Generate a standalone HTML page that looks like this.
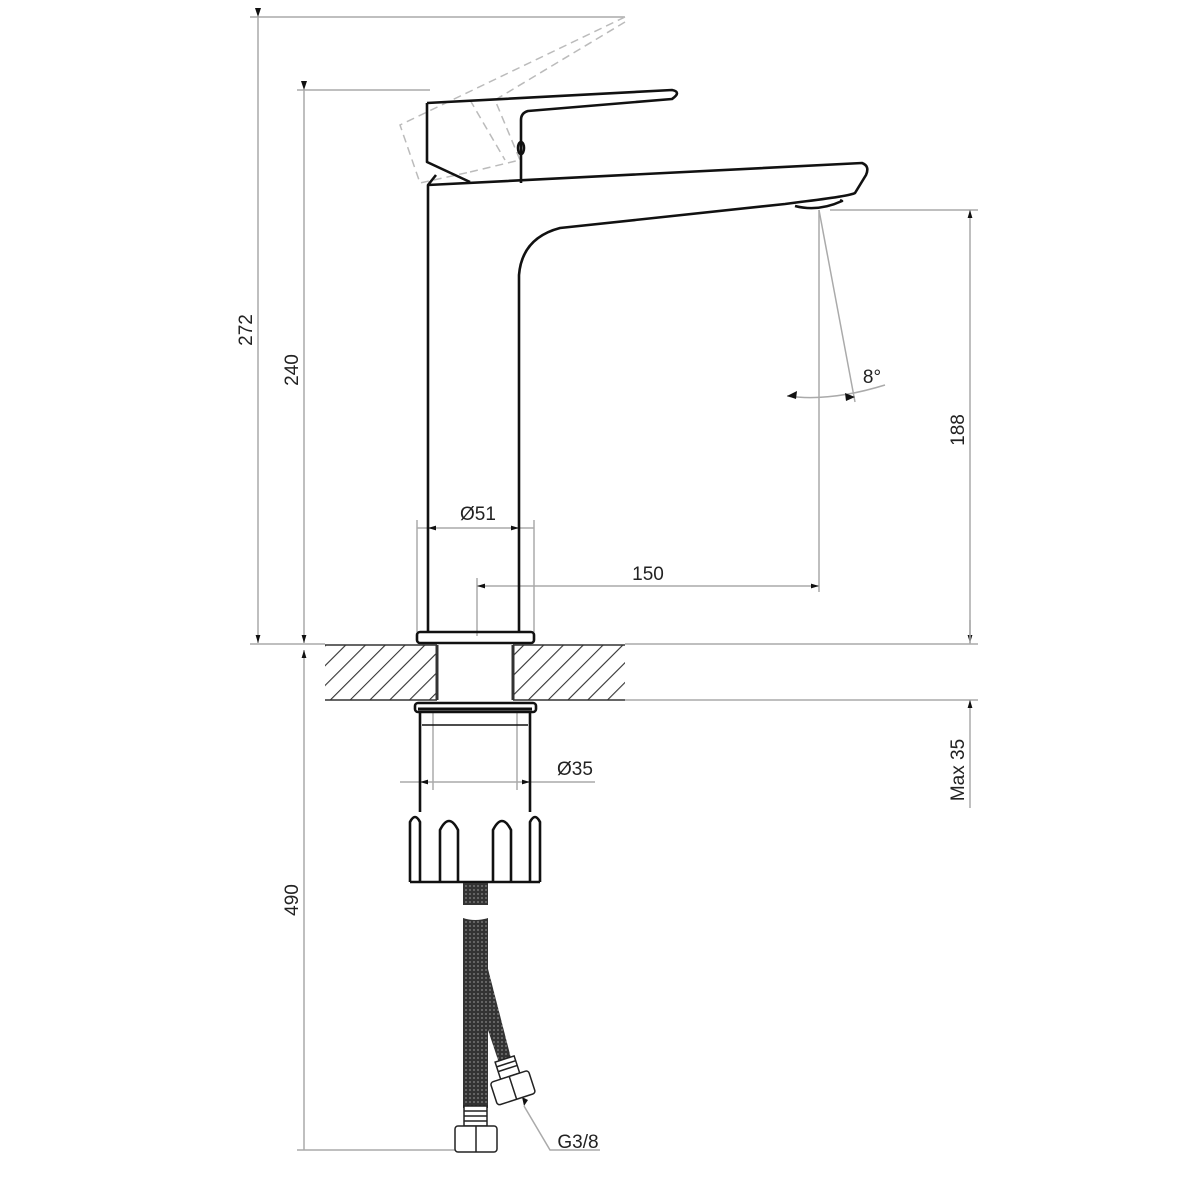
<!DOCTYPE html>
<html><head><meta charset="utf-8"><style>
html,body{margin:0;padding:0;background:#fff;}
svg{display:block;}
text{font-family:"Liberation Sans",Arial,sans-serif;fill:#222;font-size:19px;}
</style></head><body>
<svg width="1200" height="1200" viewBox="0 0 1200 1200" xmlns="http://www.w3.org/2000/svg">
<defs>
<marker id="a" viewBox="0 0 10 10" refX="10" refY="5" markerWidth="10" markerHeight="8" orient="auto-start-reverse" markerUnits="userSpaceOnUse"><path d="M0,2 L10,5 L0,8 z" fill="#111"/></marker>
<pattern id="h" width="14" height="14" patternUnits="userSpaceOnUse" patternTransform="rotate(45)"><line x1="0" y1="0" x2="0" y2="14" stroke="#333" stroke-width="2.2"/></pattern>
<pattern id="br" width="4" height="4" patternUnits="userSpaceOnUse"><rect width="4" height="4" fill="#333"/><circle cx="2" cy="2" r="0.9" fill="#888"/></pattern>
</defs>
<g stroke="#aaa" stroke-width="1.5" fill="none">
<!-- extension lines -->
<line x1="250" y1="17" x2="625" y2="17"/>
<line x1="297" y1="90" x2="430" y2="90"/>
<line x1="250" y1="644" x2="325" y2="644"/>
<line x1="625" y1="644" x2="978" y2="644"/>
<line x1="625" y1="700" x2="978" y2="700"/>
<line x1="830" y1="210" x2="978" y2="210"/>
<line x1="297" y1="1150" x2="455" y2="1150"/>
<!-- dim lines -->
<line x1="258" y1="17" x2="258" y2="643" marker-end="url(#a)"/>
<line x1="304" y1="90" x2="304" y2="643" marker-end="url(#a)"/>
<line x1="304" y1="650" x2="304" y2="1150" marker-start="url(#a)"/>
<line x1="970" y1="210" x2="970" y2="643" marker-start="url(#a)" marker-end="url(#a)"/>
<line x1="970" y1="700" x2="970" y2="808" marker-start="url(#a)"/>
<line x1="970" y1="620" x2="970" y2="644"/>
<!-- Ø51 -->
<line x1="417" y1="520" x2="417" y2="632"/>
<line x1="534" y1="520" x2="534" y2="632"/>
<line x1="417" y1="528" x2="428" y2="528"/>
<line x1="428" y1="528" x2="519" y2="528" marker-start="url(#a)" marker-end="url(#a)"/>
<line x1="519" y1="528" x2="534" y2="528"/>
<!-- 150 -->
<line x1="477" y1="578" x2="477" y2="636"/>
<line x1="819" y1="210" x2="819" y2="592"/>
<line x1="477" y1="586" x2="819" y2="586" marker-start="url(#a)" marker-end="url(#a)"/>
<!-- 8 deg -->
<line x1="819" y1="210" x2="855" y2="402"/>
<path d="M787,396 Q830,402 885,385"/>
<!-- Ø35 -->
<line x1="433" y1="712" x2="433" y2="790"/>
<line x1="517" y1="712" x2="517" y2="790"/>
<line x1="400" y1="782" x2="420" y2="782"/>
<line x1="420" y1="782" x2="530" y2="782" marker-start="url(#a)" marker-end="url(#a)"/>
<line x1="530" y1="782" x2="595" y2="782"/>
<!-- G3/8 leader -->
<polyline points="524,1106 550,1150 600,1150"/>
<!-- dashed handle -->
<g stroke-dasharray="8,5" stroke="#bbb">
<path d="M625,17 L400,125 L420,183 L470,172"/>
<path d="M625,22 L495,100 L520,160 L470,172"/>
<line x1="470" y1="100" x2="505" y2="160"/>
</g>
</g>
<g fill="#111" stroke="none">
<path d="M258,17 l-3,-9 h6z"/>
<path d="M304,90 l-3,-9 h6z"/>
<path d="M787,396 l10,-5 l-1,8z"/>
<path d="M855,397 l-10,-4 l1,8z"/>
<path d="M524,1106 l-2,-9 l6,3z"/>
</g>
<!-- counter -->
<rect x="325" y="645" width="112" height="55" fill="url(#h)"/>
<rect x="513" y="645" width="112" height="55" fill="url(#h)"/>
<g stroke="#333" stroke-width="1.5" fill="none">
<line x1="325" y1="645" x2="437" y2="645"/><line x1="513" y1="645" x2="625" y2="645"/>
<line x1="325" y1="700" x2="437" y2="700"/><line x1="513" y1="700" x2="625" y2="700"/>
<line x1="437" y1="645" x2="437" y2="700" stroke-width="3"/>
<line x1="513" y1="645" x2="513" y2="700" stroke-width="3"/>
</g>
<!-- faucet -->
<g stroke="#111" stroke-width="2.6" fill="none" stroke-linejoin="round">
<path d="M428,632 L428,185 L862,163 Q870,166 866,175 L855,193 Q850,196 800,202 L785,204 L560,228 Q522,238 519,275 L519,632"/>
<path d="M795,206 Q818,212 842,201 L840,200"/>
<path d="M427,103 L672,90 Q682,92 672,99 L528,111 Q521,113 521,120 L521,183"/>
<path d="M427,103 L427,162 L470,182"/>
<line x1="428" y1="185" x2="436" y2="175"/>
<ellipse cx="521" cy="148" rx="3" ry="6"/>
<rect x="417" y="632" width="117" height="11" rx="3"/>
<rect x="415" y="703" width="121" height="9" rx="3"/>
<line x1="418" y1="709" x2="532" y2="709" stroke-width="3"/>
<path d="M420,712 L420,812 M530,712 L530,812"/>
<line x1="422" y1="725" x2="528" y2="725" stroke-width="1.5"/>
<path d="M410,882 L410,822 Q415,812 420,822 L420,882 M530,882 L530,822 Q535,812 540,822 L540,882 M410,882 L540,882"/>
<path d="M440,882 L440,830 Q449,812 458,830 L458,882 M493,882 L493,830 Q502,812 511,830 L511,882"/>
</g>
<!-- hoses -->
<rect x="463" y="883" width="25" height="22" fill="url(#br)"/>
<path d="M463,918 Q475,922 488,918 L488,1108 L463,1108 Z" fill="url(#br)"/>
<path d="M487,965 L512,1062 L500,1066 L488,1030 Z" fill="url(#br)"/>
<g stroke="#222" stroke-width="1.5" fill="#fff">
<rect x="464" y="1106" width="23" height="20"/>
<path d="M464,1111 h23 M464,1116 h23 M464,1121 h23"/>
<rect x="455" y="1126" width="42" height="26" rx="3"/>
<line x1="476" y1="1126" x2="476" y2="1152"/>
<g transform="rotate(-18 512 1085)">
<rect x="503" y="1058" width="20" height="18"/>
<path d="M503,1063 h20 M503,1068 h20"/>
<rect x="492" y="1076" width="40" height="24" rx="3"/>
<line x1="512" y1="1076" x2="512" y2="1100"/>
</g>
</g>
<!-- labels -->
<text x="478" y="520" text-anchor="middle">Ø51</text>
<text x="648" y="580" text-anchor="middle">150</text>
<text x="872" y="383" text-anchor="middle">8°</text>
<text x="575" y="775" text-anchor="middle">Ø35</text>
<text x="578" y="1148" text-anchor="middle">G3/8</text>
<text transform="translate(252,330) rotate(-90)" text-anchor="middle">272</text>
<text transform="translate(298,370) rotate(-90)" text-anchor="middle">240</text>
<text transform="translate(298,900) rotate(-90)" text-anchor="middle">490</text>
<text transform="translate(964,430) rotate(-90)" text-anchor="middle">188</text>
<text transform="translate(964,770) rotate(-90)" text-anchor="middle">Max 35</text>
</svg>
</body></html>
